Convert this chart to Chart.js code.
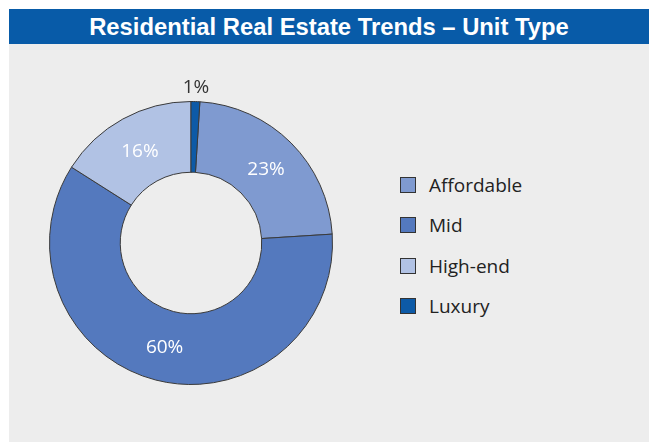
<!DOCTYPE html>
<html>
<head>
<meta charset="utf-8">
<script src="https://cdn.jsdelivr.net/npm/chart.js@4"></script>
<style>
  html, body { margin: 0; padding: 0; background: #ffffff; }
  body { width: 650px; height: 442px; position: relative; overflow: hidden; }
  #panel { position: absolute; left: 9px; top: 9px; width: 640px; height: 433px; background: #ededed; }
  #title { position: absolute; left: 0; top: 0; width: 640px; height: 35px; background: #085ba8;
    color: #ffffff; font-family: "Liberation Sans", Arial, sans-serif; font-weight: bold; font-size: 23.8px;
    line-height: 36px; text-align: center; }
  #wrap { position: absolute; left: 0; top: 35px; width: 364px; height: 398px; }
  #legend { position: absolute; left: 391px; top: 156px; font-family: "Open Sans", sans-serif; font-size: 19px; color: #222; }
  .row { height: 40.3px; display: flex; align-items: center; }
  .box { width: 14px; height: 14px; border: 1px solid #333; margin-right: 13px; }
</style>
</head>
<body>
<div id="panel">
  <div id="title">Residential Real Estate Trends – Unit Type</div>
  <div id="wrap"><canvas id="myChart" width="364" height="398"></canvas></div>
  <div id="legend"></div>
</div>
<script>
const unitTypes = ["Affordable", "Mid", "High-end", "Luxury"];
const shares = [23, 60, 16, 1];
const sliceColors = ["#7f9ad0", "#5479be", "#b1c2e4", "#0d5aa7"];
const labelColors = ["#ffffff", "#ffffff", "#ffffff", "#333333"];

// legend on the right
const legend = document.getElementById("legend");
for (let i = 0; i < unitTypes.length; i++) {
  const row = document.createElement("div");
  row.className = "row";
  row.innerHTML = '<div class="box" style="background:' + sliceColors[i] + '"></div><span>' + unitTypes[i] + '</span>';
  legend.appendChild(row);
}

// percentage labels on the slices (small ones go outside)
const pctLabels = {
  id: "pctLabels",
  afterDatasetsDraw(chart) {
    const ctx = chart.ctx;
    const meta = chart.getDatasetMeta(0);
    ctx.save();
    ctx.font = '19px "Open Sans", sans-serif';
    ctx.textAlign = "center";
    ctx.textBaseline = "middle";
    meta.data.forEach((arc, i) => {
      const p = arc.getProps(["x", "y", "startAngle", "endAngle", "innerRadius", "outerRadius"], true);
      const mid = (p.startAngle + p.endAngle) / 2;
      let r = (p.innerRadius + p.outerRadius) / 2;
      if (shares[i] < 5) r = p.outerRadius + 16;
      ctx.fillStyle = labelColors[i];
      ctx.fillText(shares[i] + "%", p.x + Math.cos(mid) * r, p.y + Math.sin(mid) * r + 2);
    });
    ctx.restore();
  }
};

new Chart("myChart", {
  type: "doughnut",
  data: {
    labels: unitTypes,
    datasets: [{
      data: shares,
      backgroundColor: sliceColors,
      borderColor: "#3a3a3a",
      borderWidth: 1
    }]
  },
  options: {
    responsive: false,
    animation: false,
    rotation: 3.6,
    cutout: "50%",
    layout: { padding: { top: 57, bottom: 57, left: 40, right: 40 } },
    plugins: {
      legend: { display: false },
      tooltip: { enabled: false }
    }
  },
  plugins: [pctLabels]
});
</script>
</body>
</html>
